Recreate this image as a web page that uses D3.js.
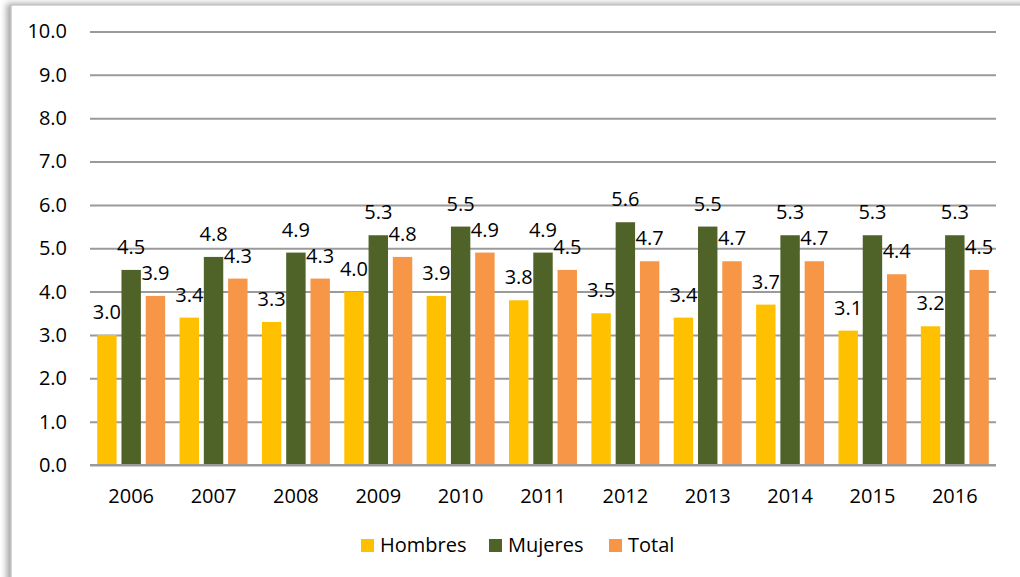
<!DOCTYPE html>
<html>
<head>
<meta charset="utf-8">
<script src="https://cdn.jsdelivr.net/npm/d3@7"></script>
<style>
  body { margin: 0; background: #fff; }
  svg { display: block; font-family: "Open Sans", "Noto Sans", sans-serif; }
</style>
</head>
<body>
<script>
// Data
var years = ["2006", "2007", "2008", "2009", "2010", "2011", "2012", "2013", "2014", "2015", "2016"];
var hombres = [3.0, 3.4, 3.3, 4.0, 3.9, 3.8, 3.5, 3.4, 3.7, 3.1, 3.2];
var mujeres = [4.5, 4.8, 4.9, 5.3, 5.5, 4.9, 5.6, 5.5, 5.3, 5.3, 5.3];
var total = [3.9, 4.3, 4.3, 4.8, 4.9, 4.5, 4.7, 4.7, 4.7, 4.4, 4.5];
var seriesNames = ["Hombres", "Mujeres", "Total"];
var yTicks = [0, 1, 2, 3, 4, 5, 6, 7, 8, 9, 10];

var colors = ["#FFC000", "#4F6228", "#F79646"];
var seriesValues = [hombres, mujeres, total];

let w = 1020;
let h = 577;
let plotLeft = 90, plotRight = 996, plotTop = 31.5, plotBottom = 465;

var svg = d3.select("body")
  .append("svg")
  .attr("width", w)
  .attr("height", h);

// Frame with shadow
var defs = svg.append("defs");
var f = defs.append("filter").attr("id", "shadow")
  .attr("x", "-5%").attr("y", "-5%").attr("width", "110%").attr("height", "110%");
f.append("feDropShadow")
  .attr("dx", -4).attr("dy", -1).attr("stdDeviation", 3)
  .attr("flood-color", "#000").attr("flood-opacity", 0.35);

svg.append("rect")
  .attr("x", 11).attr("y", 5)
  .attr("width", 1040).attr("height", 620)
  .attr("fill", "#fff")
  .attr("stroke", "#b0b0b0")
  .attr("stroke-width", 1)
  .attr("filter", "url(#shadow)");

// Scales
let xScale = d3.scaleBand()
  .domain(years)
  .range([plotLeft, plotRight])
  .paddingInner(0)
  .paddingOuter(0);

let innerScale = d3.scaleBand()
  .domain(seriesNames)
  .range([7.2, xScale.bandwidth() - 7.2])
  .paddingInner(0.2);

let yScale = d3.scaleLinear()
  .domain([0, 10])
  .range([plotBottom, plotTop]);

// Gridlines
let yAxis = d3.axisLeft(yScale)
  .tickValues(yTicks)
  .tickSize(-(plotRight - plotLeft))
  .tickPadding(23)
  .tickFormat(d3.format(".1f"));

var gy = svg.append("g")
  .attr("transform", "translate(" + plotLeft + ",0)")
  .call(yAxis);
gy.select(".domain").remove();
gy.selectAll(".tick line")
  .attr("stroke", "#9a9a9a")
  .attr("stroke-width", 2);
gy.selectAll(".tick text")
  .attr("font-size", "20px")
  .attr("font-family", "'Open Sans', sans-serif")
  .attr("fill", "#000");

// Bars
var groups = svg.selectAll("g.year")
  .data(years)
  .enter()
  .append("g")
  .attr("class", "year")
  .attr("transform", function(d){ return "translate(" + xScale(d) + ",0)"; });

groups.selectAll("rect")
  .data(function(d, i){
    return seriesNames.map(function(s, j){ return {s: s, v: seriesValues[j][i], c: colors[j]}; });
  })
  .enter()
  .append("rect")
  .attr("x", function(d){ return innerScale(d.s); })
  .attr("y", function(d){ return yScale(d.v); })
  .attr("width", innerScale.bandwidth())
  .attr("height", function(d){ return yScale(0) - yScale(d.v); })
  .attr("fill", function(d){ return d.c; });

groups.selectAll("text")
  .data(function(d, i){
    return seriesNames.map(function(s, j){ return {s: s, v: seriesValues[j][i]}; });
  })
  .enter()
  .append("text")
  .text(function(d){ return d.v.toFixed(1); })
  .attr("x", function(d){ return innerScale(d.s) + innerScale.bandwidth() / 2; })
  .attr("y", function(d){ return yScale(d.v) - 16; })
  .attr("text-anchor", "middle")
  .attr("font-size", "20px")
  .attr("fill", "#000");

// X axis line and labels
svg.append("line")
  .attr("x1", plotLeft).attr("x2", plotRight)
  .attr("y1", plotBottom).attr("y2", plotBottom)
  .attr("stroke", "#9a9a9a")
  .attr("stroke-width", 2);

svg.selectAll("text.yearlabel")
  .data(years)
  .enter()
  .append("text")
  .attr("class", "yearlabel")
  .text(function(d){ return d; })
  .attr("x", function(d){ return xScale(d) + xScale.bandwidth() / 2; })
  .attr("y", 503)
  .attr("text-anchor", "middle")
  .attr("font-size", "20px")
  .attr("fill", "#000");

// Legend
var legendX = [361, 489, 609];
var legend = svg.selectAll("g.legend")
  .data(seriesNames)
  .enter()
  .append("g")
  .attr("class", "legend")
  .attr("transform", function(d, i){ return "translate(" + legendX[i] + ",539)"; });

legend.append("rect")
  .attr("width", 13).attr("height", 13)
  .attr("fill", function(d, i){ return colors[i]; });

legend.append("text")
  .text(function(d){ return d; })
  .attr("x", 19)
  .attr("y", 13)
  .attr("font-size", "20px")
  .attr("fill", "#000");
</script>
</body>
</html>
